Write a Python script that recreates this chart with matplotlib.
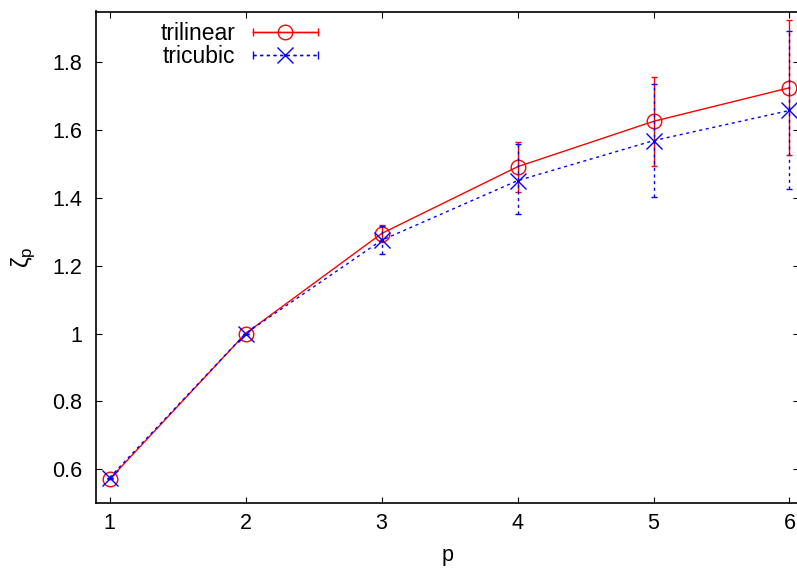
import matplotlib
matplotlib.use("Agg")
import matplotlib.pyplot as plt
from matplotlib.lines import Line2D
from matplotlib.legend_handler import HandlerLine2D, HandlerTuple

plt.rcParams["font.family"] = ["Liberation Sans", "DejaVu Sans"]
plt.rcParams["mathtext.fontset"] = "custom"
plt.rcParams["mathtext.rm"] = "Liberation Sans"
plt.rcParams["mathtext.it"] = "Liberation Sans"

# data
p = [1, 2, 3, 4, 5, 6]
trilinear = [0.570, 1.000, 1.295, 1.492, 1.626, 1.725]
trilinear_lo = [0.570, 1.000, 1.270, 1.417, 1.493, 1.527]
trilinear_hi = [0.570, 1.000, 1.321, 1.564, 1.757, 1.924]
tricubic = [0.575, 1.000, 1.275, 1.451, 1.569, 1.658]
tricubic_lo = [0.575, 1.000, 1.235, 1.354, 1.404, 1.425]
tricubic_hi = [0.575, 1.000, 1.318, 1.560, 1.735, 1.892]

xticks = [1, 2, 3, 4, 5, 6]
yticks = [0.6, 0.8, 1.0, 1.2, 1.4, 1.6, 1.8]
yticklabels = ["0.6", "0.8", "1", "1.2", "1.4", "1.6", "1.8"]

FS = 15.5
KEY_FS = 16.5
RED = "#ff0000"
BLUE = "#0000ff"
DOTS = (0, (2.2, 2.6))

fig = plt.figure(figsize=(7.97, 5.75), dpi=100)
# right border sits just past the image edge, as in the reference
ax = fig.add_axes([96 / 797, 72 / 575, 703 / 797, 491.5 / 575])


def err(y, lo, hi):
    return [[a - b for a, b in zip(y, lo)], [b - a for a, b in zip(y, hi)]]


eb1 = ax.errorbar(p, trilinear, yerr=err(trilinear, trilinear_lo, trilinear_hi),
                  color=RED, lw=1.0, elinewidth=1.0, capsize=2.5, capthick=1.0,
                  marker="o", ms=10.5, mfc="none", mec=RED, mew=1.0, zorder=3)
eb2 = ax.errorbar(p, tricubic, yerr=err(tricubic, tricubic_lo, tricubic_hi),
                  color=BLUE, lw=1.0, ls=DOTS, elinewidth=1.0, capsize=2.5,
                  capthick=1.0, marker="x", ms=11, mew=1.0, zorder=4)
eb2[2][0].set_linestyle(DOTS)

ax.set_xlim(0.9, 6.07)
ax.set_ylim(0.5, 1.95)
ax.set_xticks(xticks)
ax.set_yticks(yticks)
ax.set_yticklabels(yticklabels)
ax.tick_params(direction="in", top=True, right=True, length=4.5, width=0.8,
               labelsize=FS, color="black")
ax.tick_params(axis="y", pad=10)
ax.tick_params(axis="x", pad=7)
for s in ax.spines.values():
    s.set_linewidth(1.2)

ax.set_xlabel("p", fontsize=FS, labelpad=8)
ax.set_ylabel(r"$\zeta_p$", fontsize=FS + 2, labelpad=10)

# gnuplot-style key: text first, horizontal sample with end caps
h1 = (Line2D([], [], color=RED, lw=1.0, marker="o", ms=10.5, mfc="none", mec=RED),
      Line2D([], [], color=RED, lw=1.0, marker="|", ms=6))
h2 = (Line2D([], [], color=BLUE, lw=1.0, ls=DOTS, marker="x", ms=11),
      Line2D([], [], color=BLUE, lw=1.0, ls=DOTS, marker="|", ms=6))
hmap = {h1[0]: HandlerLine2D(numpoints=1), h1[1]: HandlerLine2D(numpoints=2, marker_pad=0),
        h2[0]: HandlerLine2D(numpoints=1), h2[1]: HandlerLine2D(numpoints=2, marker_pad=0),
        tuple: HandlerTuple(ndivide=1, pad=0)}
ax.legend([h1, h2], ["trilinear", "tricubic"], loc="upper left",
          bbox_to_anchor=(0.0725, 1.0067), frameon=False, fontsize=KEY_FS,
          markerfirst=False, handlelength=2.84, handletextpad=0.74,
          labelspacing=0.0, borderaxespad=0.2, handler_map=hmap)

fig.savefig("out.png", dpi=100)
